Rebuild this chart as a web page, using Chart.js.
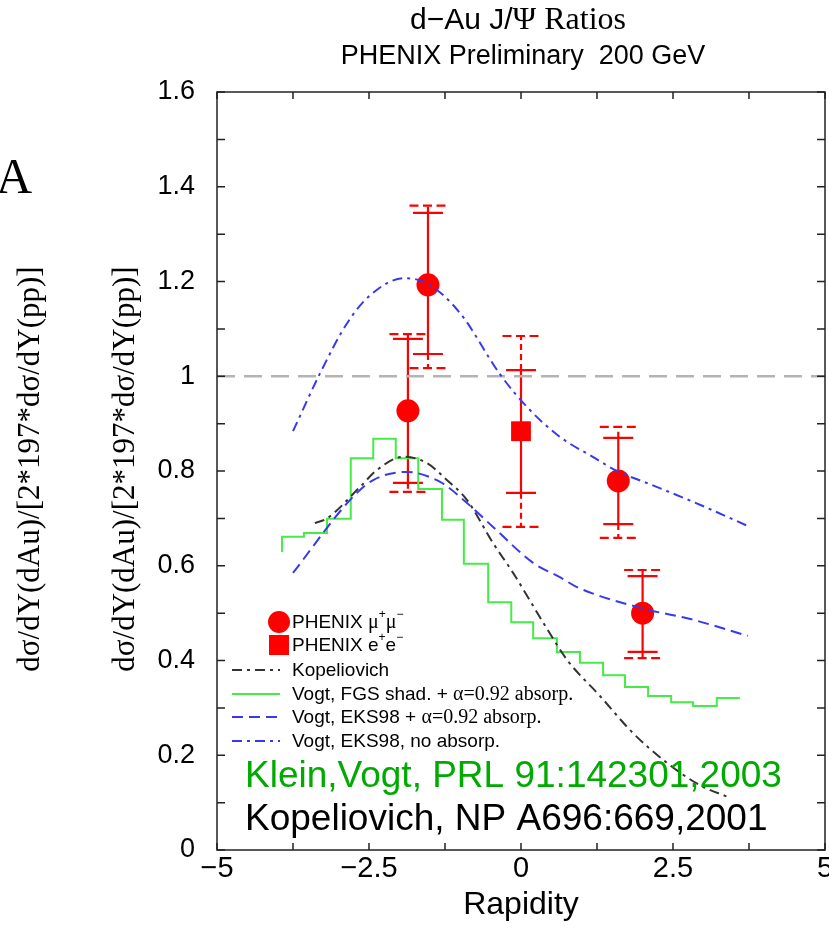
<!DOCTYPE html>
<html><head><meta charset="utf-8">
<script src="https://cdn.jsdelivr.net/npm/chart.js@4.4.1/dist/chart.umd.min.js"></script>
<style>html,body{margin:0;padding:0;background:#fff;overflow:hidden}#wrap{width:829px;height:930px;position:relative;overflow:hidden}canvas{display:block}</style>
</head><body><div id="wrap"><canvas id="c" width="829" height="930"></canvas></div>
<script>
const SANS = '"Liberation Sans", Arial, Helvetica, sans-serif';
const SERIF = '"Liberation Serif", "Times New Roman", serif';

// ---- data ----
const xTickValues = [-5, -2.5, 0, 2.5, 5];
const xTickLabels = ['−5', '−2.5', '0', '2.5', '5'];
const yTickLabels = ['0', '0.2', '0.4', '0.6', '0.8', '1', '1.2', '1.4', '1.6'];

const muRapidity = [-1.86, -1.53, 1.60, 2.00];
const muRatio    = [0.927, 1.193, 0.779, 0.500];
const muStatLow  = [0.775, 1.047, 0.688, 0.418];
const muStatHigh = [1.079, 1.345, 0.870, 0.578];
const muSysLow   = [0.756, 1.017, 0.659, 0.405];
const muSysHigh  = [1.089, 1.360, 0.893, 0.591];

const eeRapidity = [0.00];
const eeRatio    = [0.884];
const eeStatLow  = [0.754];
const eeStatHigh = [1.013];
const eeSysLow   = [0.682];
const eeSysHigh  = [1.085];

const kopRapidity = [-3.39, -3.19, -2.65, -2.37, -1.94, -1.55, -1.22, -0.89, -0.46, -0.13, 0.39, 0.76, 1.30, 1.84, 2.40, 2.94, 3.40];
const kopRatio    = [0.690, 0.700, 0.766, 0.802, 0.830, 0.817, 0.781, 0.739, 0.648, 0.585, 0.475, 0.401, 0.325, 0.247, 0.184, 0.137, 0.112];

const fgsEdges = [-3.93, -3.57, -3.19, -2.80, -2.43, -2.06, -1.69, -1.30, -0.94, -0.54, -0.16, 0.20, 0.59, 0.97, 1.35, 1.71, 2.09, 2.47, 2.83, 3.22, 3.60];
const fgsRatio = [0.661, 0.669, 0.699, 0.827, 0.868, 0.827, 0.762, 0.697, 0.604, 0.523, 0.481, 0.447, 0.418, 0.395, 0.369, 0.344, 0.325, 0.312, 0.304, 0.321];
const fgsStart = 0.629;

const eksAbsRapidity = [-3.75, -2.81, -2.43, -1.88, -1.33, -1.00, -0.46, 0.20, 0.64, 0.92, 2.00, 2.83, 3.73];
const eksAbsRatio    = [0.585, 0.739, 0.781, 0.798, 0.777, 0.745, 0.682, 0.606, 0.576, 0.555, 0.510, 0.486, 0.452];

const eksRapidity = [-3.75, -3.31, -2.86, -2.48, -1.92, -1.53, -1.00, -0.35, 0.10, 0.64, 1.18, 1.55, 2.20, 2.83, 3.73];
const eksRatio    = [0.884, 1.005, 1.112, 1.171, 1.207, 1.195, 1.133, 1.005, 0.935, 0.872, 0.830, 0.802, 0.768, 0.735, 0.684];

const refRatio = 1.0;
const xRange = [-5, 5];
const yRange = [0, 1.6];

// ---- helpers ----
const pts = (xs, ys) => xs.map((x, i) => ({x, y: ys[i]}));
function histPts(edges, vals, start) {
  const out = [{x: edges[0], y: start}];
  vals.forEach((v, i) => { out.push({x: edges[i], y: v}); out.push({x: edges[i + 1], y: v}); });
  return out;
}
const RED = '#ff0000', BLUE = '#3838f0', GREEN = '#46ec46', BLACK = '#333333', GRAY = '#b4b4b4';
const DASHDOT = [10, 5, 3, 5];
const DASH = [11, 6];

function drawRich(ctx, x, y, parts) {
  for (const [t, f, dy] of parts) {
    ctx.font = f; ctx.fillText(t, x, y + (dy || 0)); x += ctx.measureText(t).width;
  }
  return x;
}
function richWidth(ctx, parts) {
  let w = 0; for (const [t, f] of parts) { ctx.font = f; w += ctx.measureText(t).width; } return w;
}

function drawErrors(ctx, sx, sy, xs, lo, hi, slo, shi) {
  ctx.save();
  ctx.strokeStyle = RED; ctx.lineWidth = 2.2;
  xs.forEach((x, i) => {
    const px = sx.getPixelForValue(x);
    ctx.setLineDash([]);
    ctx.beginPath();
    ctx.moveTo(px, sy.getPixelForValue(lo[i])); ctx.lineTo(px, sy.getPixelForValue(hi[i]));
    for (const v of [lo[i], hi[i]]) {
      const py = sy.getPixelForValue(v);
      ctx.moveTo(px - 15, py); ctx.lineTo(px + 15, py);
    }
    ctx.stroke();
    ctx.setLineDash([6, 4]);
    ctx.beginPath();
    ctx.moveTo(px, sy.getPixelForValue(hi[i])); ctx.lineTo(px, sy.getPixelForValue(shi[i]));
    ctx.moveTo(px, sy.getPixelForValue(lo[i])); ctx.lineTo(px, sy.getPixelForValue(slo[i]));
    ctx.stroke();
    ctx.setLineDash([9, 4.5]);
    ctx.beginPath();
    for (const v of [slo[i], shi[i]]) {
      const py = sy.getPixelForValue(v);
      ctx.moveTo(px - 18.5, py); ctx.lineTo(px + 18.5, py);
    }
    ctx.stroke();
  });
  ctx.restore();
}

const decor = {
  id: 'decor',
  beforeDatasetsDraw(chart) {
    const ctx = chart.ctx, sx = chart.scales.x, sy = chart.scales.y;
    drawErrors(ctx, sx, sy, muRapidity, muStatLow, muStatHigh, muSysLow, muSysHigh);
    drawErrors(ctx, sx, sy, eeRapidity, eeStatLow, eeStatHigh, eeSysLow, eeSysHigh);
  },
  afterDraw(chart) {
    const ctx = chart.ctx, a = chart.chartArea, sx = chart.scales.x, sy = chart.scales.y;
    ctx.save();
    // frame
    ctx.strokeStyle = '#222'; ctx.lineWidth = 1.5; ctx.setLineDash([]);
    ctx.strokeRect(a.left, a.top, a.right - a.left, a.bottom - a.top);
    // inward ticks
    ctx.beginPath();
    sx.ticks.forEach(t => {
      const p = sx.getPixelForValue(t.value);
      ctx.moveTo(p, a.bottom); ctx.lineTo(p, a.bottom - 7);
      ctx.moveTo(p, a.top); ctx.lineTo(p, a.top + 7);
    });
    sy.ticks.forEach(t => {
      const p = sy.getPixelForValue(t.value);
      ctx.moveTo(a.left, p); ctx.lineTo(a.left + 8, p);
      ctx.moveTo(a.right, p); ctx.lineTo(a.right - 8, p);
    });
    ctx.stroke();

    ctx.fillStyle = '#000'; ctx.textBaseline = 'middle'; ctx.textAlign = 'center';
    // x tick labels
    ctx.font = '29px ' + SANS;
    xTickValues.forEach((v, i) => ctx.fillText(xTickLabels[i], sx.getPixelForValue(v), a.bottom + 19));
    // title
    ctx.textAlign = 'left';
    const tParts = [['d−Au J/', '30px ' + SANS], ['Ψ Ratios', '32px ' + SERIF]];
    const tw = richWidth(ctx, tParts);
    drawRich(ctx, 518 - tw / 2, 21, tParts);
    ctx.textAlign = 'center';
    ctx.font = '27px ' + SANS;
    ctx.fillText('PHENIX Preliminary  200 GeV', 523, 57);
    // x title
    ctx.font = '32px ' + SANS;
    ctx.fillText('Rapidity', 521, 905);
    // panel letter
    ctx.textAlign = 'left';
    ctx.font = '50px ' + SERIF;
    ctx.fillText('A', -4, 180);
    // y titles
    const yTitle = 'dσ/dY(dAu)/[2*197*dσ/dY(pp)]';
    for (const cx of [31, 126]) {
      ctx.save();
      ctx.translate(cx, 469); ctx.rotate(-Math.PI / 2);
      ctx.textAlign = 'center'; ctx.font = '31px ' + SERIF;
      ctx.fillText(yTitle, 0, 0);
      ctx.restore();
    }
    // references
    ctx.textAlign = 'left';
    ctx.font = '37px ' + SANS;
    ctx.fillStyle = '#00aa00';
    ctx.fillText('Klein,Vogt, PRL 91:142301,2003', 245, 777);
    ctx.fillStyle = '#000';
    ctx.fillText('Kopeliovich, NP A696:669,2001', 245, 820);

    // legend
    const LF = '19px ' + SANS, LFs = '12px ' + SANS, LFg = '20px ' + SERIF;
    const tx = 292;
    ctx.fillStyle = RED;
    ctx.beginPath(); ctx.arc(279, 622, 11, 0, 2 * Math.PI); ctx.fill();
    ctx.fillRect(269, 635, 20, 20);
    ctx.fillStyle = '#000';
    drawRich(ctx, tx, 623, [['PHENIX ', LF], ['μ', LFg], ['+', LFs, -8], ['μ', LFg], ['−', LFs, -8]]);
    drawRich(ctx, tx, 646, [['PHENIX e', LF], ['+', LFs, -8], ['e', LF], ['−', LFs, -8]]);
    const rows = [
      [670, BLACK, DASHDOT, [['Kopeliovich', LF]]],
      [694, GREEN, [], [['Vogt, FGS shad. + ', LF], ['α=0.92 absorp.', LFg]]],
      [717, BLUE, DASH, [['Vogt, EKS98 + ', LF], ['α=0.92 absorp.', LFg]]],
      [741, BLUE, DASHDOT, [['Vogt, EKS98, no absorp.', LF]]]
    ];
    for (const [y, col, dash, parts] of rows) {
      ctx.strokeStyle = col; ctx.lineWidth = 2; ctx.setLineDash(dash);
      ctx.beginPath(); ctx.moveTo(232, y); ctx.lineTo(280, y); ctx.stroke();
      ctx.fillStyle = '#000';
      drawRich(ctx, tx, y + 1, parts);
    }
    ctx.restore();
  }
};

const fmtY = v => {
  const r = Math.round(v * 10);
  if (r % 2 !== 0) return '';
  return yTickLabels[r / 2];
};

new Chart(document.getElementById('c'), {
  type: 'scatter',
  data: {
    datasets: [
      {label: 'Vogt, EKS98, no absorp.', data: pts(eksRapidity, eksRatio), showLine: true,
       borderColor: BLUE, borderWidth: 2, borderDash: DASHDOT, pointRadius: 0, cubicInterpolationMode: 'monotone'},
      {label: 'Vogt, EKS98 + α=0.92 absorp.', data: pts(eksAbsRapidity, eksAbsRatio), showLine: true,
       borderColor: BLUE, borderWidth: 2, borderDash: DASH, pointRadius: 0, cubicInterpolationMode: 'monotone'},
      {label: 'Kopeliovich', data: pts(kopRapidity, kopRatio), showLine: true,
       borderColor: BLACK, borderWidth: 2, borderDash: DASHDOT, pointRadius: 0, cubicInterpolationMode: 'monotone'},
      {label: 'Vogt, FGS shad. + α=0.92 absorp.', data: histPts(fgsEdges, fgsRatio, fgsStart), showLine: true,
       borderColor: GREEN, borderWidth: 2, pointRadius: 0, tension: 0},
      {label: 'ref', data: [{x: xRange[0], y: refRatio}, {x: xRange[1], y: refRatio}], showLine: true,
       borderColor: GRAY, borderWidth: 2.5, borderDash: [18, 9], pointRadius: 0},
      {label: 'PHENIX μ+μ−', data: pts(muRapidity, muRatio), showLine: false,
       pointStyle: 'circle', pointRadius: 11.5, backgroundColor: RED, borderWidth: 0},
      {label: 'PHENIX e+e−', data: pts(eeRapidity, eeRatio), showLine: false,
       pointStyle: 'rect', pointRadius: 14, backgroundColor: RED, borderWidth: 0}
    ]
  },
  options: {
    responsive: false, animation: false, devicePixelRatio: 1,
    layout: {autoPadding: false, padding: {top: 92, right: 4, left: 0, bottom: 0}},
    plugins: {legend: {display: false}, tooltip: {enabled: false}, title: {display: false}},
    scales: {
      x: {type: 'linear', position: 'bottom', min: xRange[0], max: xRange[1],
          ticks: {display: false, stepSize: 1.25, autoSkip: false, maxTicksLimit: 100},
          grid: {display: false, drawTicks: false}, border: {display: false},
          afterFit: s => { s.height = 80; s.paddingLeft = 0; s.paddingRight = 0; }},
      y: {type: 'linear', position: 'left', min: yRange[0], max: yRange[1],
          ticks: {stepSize: 0.1, autoSkip: false, padding: 22, color: '#000',
                  font: {family: SANS, size: 27}, callback: fmtY, maxTicksLimit: 100},
          grid: {display: false, drawTicks: false}, border: {display: false},
          afterFit: s => { s.width = 217; s.paddingTop = 0; s.paddingBottom = 0; s.paddingLeft = 0; s.paddingRight = 0; }}
    }
  },
  plugins: [decor]
});
</script></body></html>
